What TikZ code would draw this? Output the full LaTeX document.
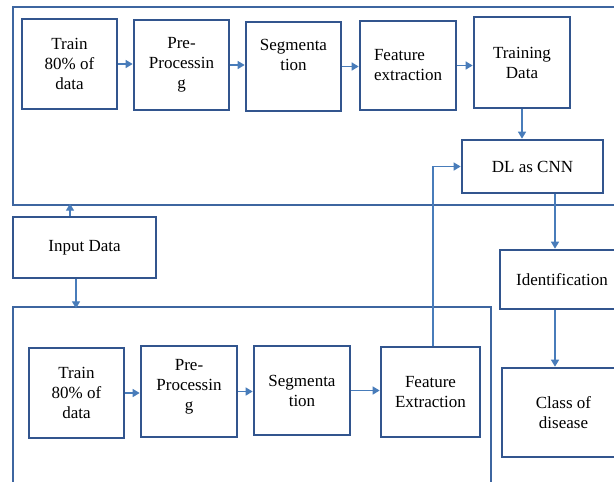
\documentclass[tikz,border=0pt]{standalone}
\usepackage{fontspec}
\setmainfont{Liberation Serif}
\usetikzlibrary{arrows.meta}
\definecolor{boxblue}{RGB}{50,85,142}
\definecolor{frameblue}{RGB}{62,102,160}
\definecolor{arrowblue}{RGB}{72,124,186}
\begin{document}
\begin{tikzpicture}[x=1pt,y=-1pt,
  block/.style={draw=boxblue, line width=2.6pt, fill=white, align=center, inner sep=2pt,
    font=\fontsize{17}{20}\selectfont},
  frame/.style={draw=frameblue, line width=2.2pt},
  arr/.style={draw=arrowblue, line width=1.3pt, -{Triangle[width=8pt,length=7pt]}}]

  \clip (0,0) rectangle (614,482);

  \draw[frame] (13,7) rectangle (640,205);
  \draw[frame] (13,307) rectangle (491,500);

  \node[block, minimum width=95, minimum height=90] (train1) at (69.5,64) {Train\\80\% of\\data};
  \node[block, minimum width=95, minimum height=90] (prep1) at (181.5,65) {Pre-\\Processin\\g};
  \node[block, minimum width=95, minimum height=89] (seg1) at (293.5,66.5) {Segmenta\\tion\\[4pt]};
  \node[block, minimum width=96, minimum height=89, align=left] (feat1) at (408,65.5) {Feature\\extraction};
  \node[block, minimum width=96, minimum height=91] (trdata) at (522,62.5) {Training\\Data};
  \node[block, minimum width=141, minimum height=53] (cnn) at (532.5,166.5) {DL as CNN};

  \node[block, minimum width=143, minimum height=61] (input) at (84.5,247.5) {Input Data};

  \node[block, minimum width=95, minimum height=90] (train2) at (76.5,393) {Train\\80\% of\\data};
  \node[block, minimum width=96, minimum height=91] (prep2) at (189,391.5) {Pre-\\Processin\\g\\[-6pt]};
  \node[block, minimum width=96, minimum height=89] (seg2) at (302,390.5) {Segmenta\\tion};
  \node[block, minimum width=99, minimum height=90] (feat2) at (430.5,392) {Feature\\Extraction};

  \node[block, minimum width=124, minimum height=59] (ident) at (562,279.5) {Identification};
  \node[block, minimum width=123, minimum height=89] (class) at (563.5,412.5) {Class of\\disease};

  \draw[arr] (train1.east) -- (train1.east -| prep1.west);
  \draw[arr] (prep1.east) -- (prep1.east -| seg1.west);
  \draw[arr] (seg1.east) -- (seg1.east -| feat1.west);
  \draw[arr] (feat1.east) -- (feat1.east -| trdata.west);
  \draw[arr] (trdata.south) -- (trdata.south |- cnn.north);

  \draw[arr] ([xshift=-14.5pt]input.north) -- ++(0,-12);
  \draw[arr] ([xshift=-8.5pt]input.south) -- ++(0,29);

  \draw[arr] (train2.east) -- (train2.east -| prep2.west);
  \draw[arr] (prep2.east) -- (prep2.east -| seg2.west);
  \draw[arr] (seg2.east) -- (seg2.east -| feat2.west);
  \draw[arr] ([xshift=2.5pt]feat2.north) |- (cnn.west);

  \draw[arr] ([xshift=22.5pt]cnn.south) -- ([xshift=22.5pt]cnn.south |- ident.north);
  \draw[arr] ([xshift=-7pt]ident.south) -- ([xshift=-7pt]ident.south |- class.north);

\end{tikzpicture}
\end{document}
